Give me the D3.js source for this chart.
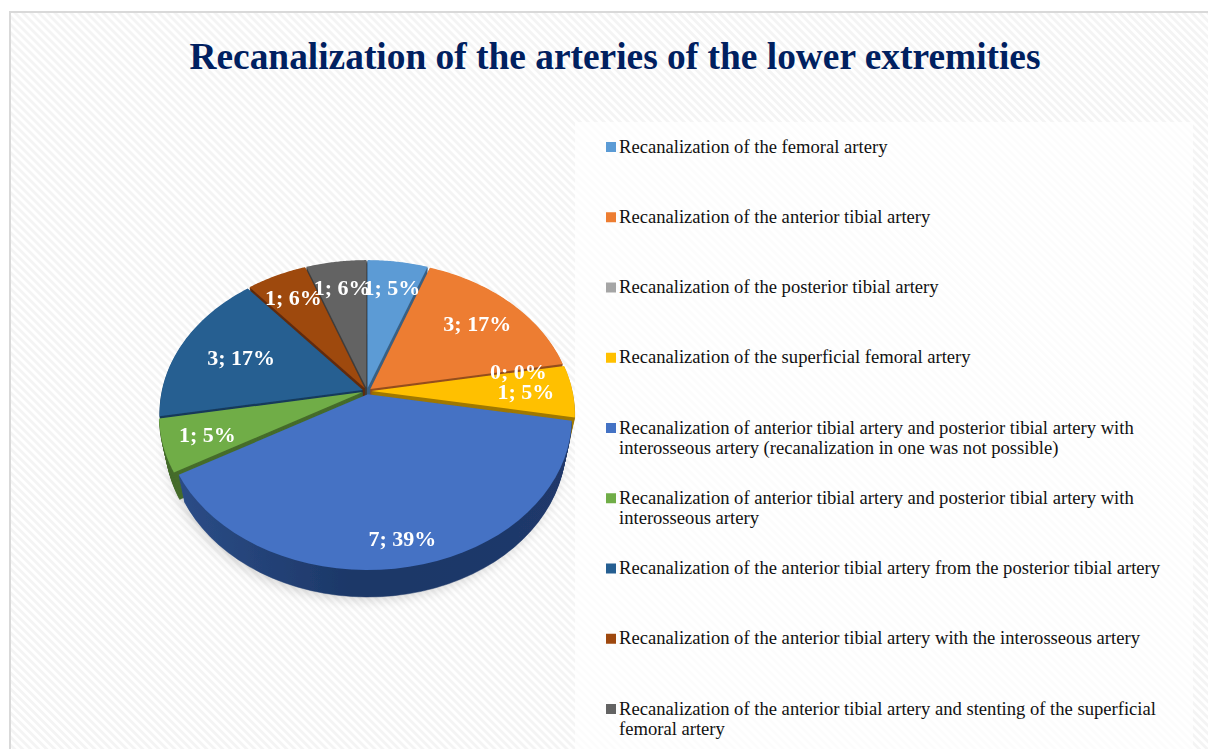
<!DOCTYPE html>
<html>
<head>
<meta charset="utf-8">
<script src="https://cdnjs.cloudflare.com/ajax/libs/d3/7.8.5/d3.min.js"></script>
<style>
  html, body { margin: 0; padding: 0; background: #fff; overflow: hidden; }
  svg { display: block; font-family: "Liberation Serif", "Times New Roman", serif; }
</style>
</head>
<body>
<svg id="chart" width="1208" height="749"></svg>
<script>
const chartTitle = "Recanalization of the arteries of the lower extremities";

const categories = [
    ["Recanalization of the femoral artery"],
    ["Recanalization of the anterior tibial artery"],
    ["Recanalization of the posterior tibial artery"],
    ["Recanalization of the superficial femoral artery"],
    ["Recanalization of anterior tibial artery and posterior tibial artery with", "interosseous artery (recanalization in one was not possible)"],
    ["Recanalization of anterior tibial artery and posterior tibial artery with", "interosseous artery"],
    ["Recanalization of the anterior tibial artery from the posterior tibial artery"],
    ["Recanalization of the anterior tibial artery with the interosseous artery"],
    ["Recanalization of the anterior tibial artery and stenting of the superficial", "femoral artery"]
];
const counts = [1, 3, 0, 1, 7, 1, 3, 1, 1];
const percents = [5, 17, 0, 5, 39, 5, 17, 6, 6];
const colors = ["#5b9bd5", "#ed7d31", "#a5a5a5", "#ffc000", "#4472c4", "#70ad47", "#255e91", "#9e480e", "#636363"];

// how far out each data label sits, as a share of the radius
const labelRadius = [0.8, 0.77, 0.78, 0.79, 0.88, 0.81, 0.69, 0.81, 0.8];

const svg = d3.select("#chart");
const defs = svg.append("defs");

// Hatched card background
const hatch = defs.append("pattern")
    .attr("id", "hatch")
    .attr("width", 5.66)
    .attr("height", 5.66)
    .attr("patternUnits", "userSpaceOnUse")
    .attr("patternTransform", "rotate(-45)");
hatch.append("rect").attr("width", 5.66).attr("height", 5.66).attr("fill", "#ffffff");
hatch.append("rect").attr("width", 2.83).attr("height", 5.66).attr("fill", "#f4f4f4");

svg.append("rect")
    .attr("x", 10).attr("y", 12)
    .attr("width", 1210).attr("height", 760)
    .attr("fill", "url(#hatch)")
    .attr("stroke", "#d9d9d9")
    .attr("stroke-width", 2);

svg.append("rect")
    .attr("x", 575).attr("y", 122)
    .attr("width", 618).attr("height", 640)
    .attr("fill", "#ffffff")
    .attr("fill-opacity", 0.75);

svg.append("text")
    .attr("x", 615).attr("y", 69)
    .attr("text-anchor", "middle")
    .attr("font-size", 37.4)
    .attr("font-weight", "bold")
    .attr("fill", "#002060")
    .text(chartTitle);

// Legend
const legendY = d3.scaleLinear().domain([0, 8]).range([146.5, 708.5]);
const legend = svg.append("g").selectAll("g")
    .data(categories)
    .enter()
    .append("g")
    .attr("transform", (d, i) => `translate(606,${legendY(i)})`);
legend.append("rect")
    .attr("y", -4.5)
    .attr("width", 10).attr("height", 10)
    .attr("fill", (d, i) => colors[i]);
legend.selectAll("text")
    .data(d => d)
    .enter()
    .append("text")
    .attr("x", 13)
    .attr("y", (d, i) => 6 + i * 20)
    .attr("font-size", 18.6)
    .attr("fill", "#111")
    .text(d => d);

// Pie laid on a tilted plane: a small perspective pulls the apex up from the ellipse centre
const cx = 367, cy = 391;
const radiusX = 201, radiusY = 148, persp = 0.152;
const explode = 0.022;
const depth = 27, depthShrink = 0.03;

function project(x, y, t) {
    const w = 1 - persp * y;
    return [cx + (radiusX * x / w) * (1 - depthShrink * t), cy + radiusY * y / w + depth * t];
}

function slicePath(d, t) {
    const mid = (d.startAngle + d.endAngle) / 2;
    const ox = explode * Math.sin(mid), oy = -explode * Math.cos(mid);
    const steps = d3.range(0, 41).map(k => d.startAngle + (d.endAngle - d.startAngle) * k / 40);
    const pts = [[ox, oy]].concat(steps.map(a => [ox + Math.sin(a), oy - Math.cos(a)]));
    return d3.line()(pts.map(p => project(p[0], p[1], t))) + "Z";
}

const arcs = d3.pie().value(d => d).sort(null)(counts);
arcs.forEach((d, i) => { d.color = colors[i]; d.index = i; });

const soft = defs.append("filter").attr("id", "soft");
soft.append("feGaussianBlur").attr("stdDeviation", 0.7);
const softText = defs.append("filter").attr("id", "softText");
softText.append("feGaussianBlur").attr("stdDeviation", 0.35);
const shadowBlur = defs.append("filter")
    .attr("id", "shadowBlur")
    .attr("x", "-20%").attr("y", "-20%").attr("width", "140%").attr("height", "140%");
shadowBlur.append("feGaussianBlur").attr("stdDeviation", 6);

// Darker, shaded wall for the big front slice
const wall = defs.append("linearGradient").attr("id", "wall");
wall.append("stop").attr("offset", "0%").attr("stop-color", "#2b4c86");
wall.append("stop").attr("offset", "45%").attr("stop-color", "#1c3767");
wall.append("stop").attr("offset", "100%").attr("stop-color", "#20396b");

const pie = svg.append("g");

// soft ground shadow
pie.append("path")
    .attr("d", slicePath({ startAngle: 0, endAngle: 2 * Math.PI }, 1))
    .attr("transform", "translate(-2,3)")
    .attr("fill", "#000")
    .attr("fill-opacity", 0.16)
    .attr("filter", "url(#shadowBlur)");

const body = pie.append("g").attr("filter", "url(#soft)");

// back slices first so the front ones sit on top of them
const drawOrder = arcs.filter(d => d.value > 0)
    .sort((a, b) => -Math.cos((a.startAngle + a.endAngle) / 2) - -Math.cos((b.startAngle + b.endAngle) / 2));

drawOrder.forEach(d => {
    const g = body.append("g");
    const wallColor = d.index === 4 ? "url(#wall)" : d3.color(d.color).darker(1.3).formatHex();
    g.selectAll("path.side")
        .data(d3.range(depth, 0, -1).map(k => k / depth))
        .enter()
        .append("path")
        .attr("class", "side")
        .attr("d", t => slicePath(d, t))
        .attr("fill", wallColor)
        .attr("stroke", wallColor)
        .attr("stroke-width", 0.5);
    g.append("path")
        .attr("d", slicePath(d, 0))
        .attr("fill", d.color);
});

// Data labels
svg.append("g").attr("filter", "url(#softText)").selectAll("text")
    .data(arcs)
    .enter()
    .append("text")
    .attr("transform", d => {
        const mid = (d.startAngle + d.endAngle) / 2;
        const r = labelRadius[d.index];
        const p = project(r * Math.sin(mid), -r * Math.cos(mid), 0);
        return `translate(${p[0]},${p[1]})`;
    })
    .attr("text-anchor", "middle")
    .attr("dy", "0.35em")
    .attr("font-size", 22)
    .attr("font-weight", "bold")
    .attr("fill", "#ffffff")
    .text(d => `${d.value}; ${percents[d.index]}%`);
</script>
</body>
</html>
